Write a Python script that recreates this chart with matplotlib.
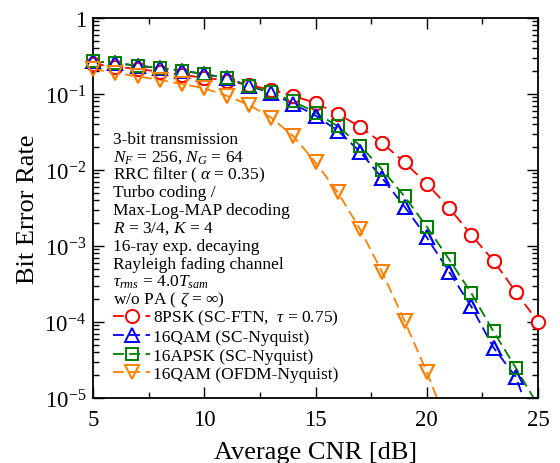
import math
import matplotlib
matplotlib.use("Agg")
import matplotlib.pyplot as plt
from matplotlib.ticker import FixedLocator, LogLocator, FuncFormatter, NullFormatter

plt.rcParams['font.family'] = ['Liberation Serif', 'DejaVu Serif']
plt.rcParams['mathtext.fontset'] = 'custom'
plt.rcParams['mathtext.rm'] = 'Liberation Serif'
plt.rcParams['mathtext.it'] = 'Liberation Serif:italic'
plt.rcParams['mathtext.bf'] = 'Liberation Serif:bold'

cnr_8psk = [5, 6, 7, 8, 9, 10, 11, 12, 13, 14, 15, 16, 17, 18, 19, 20, 21, 22, 23, 24, 25]
ber_8psk = [0.248, 0.229, 0.213, 0.197, 0.178, 0.164, 0.150, 0.131, 0.114, 0.095, 0.076,
            0.055, 0.037, 0.0226, 0.0126, 0.0066, 0.0032, 0.0014, 6.4e-4, 2.5e-4, 1.0e-4]

cnr_16qam = [5, 6, 7, 8, 9, 10, 11, 12, 13, 14, 15, 16, 17, 18, 19, 20, 21, 22, 23, 24, 25]
ber_16qam = [0.27, 0.255, 0.236, 0.22, 0.203, 0.183, 0.162, 0.128, 0.103, 0.074, 0.052,
             0.033, 0.0174, 0.0078, 0.0033, 0.0013, 4.6e-4, 1.6e-4, 4.6e-5, 1.9e-5, 3.0e-6]

cnr_16apsk = [5, 6, 7, 8, 9, 10, 11, 12, 13, 14, 15, 16, 17, 18, 19, 20, 21, 22, 23, 24, 25]
ber_16apsk = [0.27, 0.255, 0.236, 0.22, 0.203, 0.183, 0.162, 0.129, 0.105, 0.080, 0.057,
              0.0376, 0.021, 0.0101, 0.0045, 0.0018, 6.7e-4, 2.4e-4, 7.5e-5, 2.5e-5, 8.0e-6]

cnr_ofdm = [5, 6, 7, 8, 9, 10, 11, 12, 13, 14, 15, 16, 17, 18, 19, 20, 21]
ber_ofdm = [0.213, 0.19, 0.17, 0.154, 0.135, 0.119, 0.095, 0.072, 0.049, 0.028, 0.0126,
            0.0051, 0.00167, 4.5e-4, 1.04e-4, 2.2e-5, 4.0e-6]

labels = ['8PSK (SC-FTN,  $\\tau$ = 0.75)', '16QAM (SC-Nyquist)',
          '16APSK (SC-Nyquist)', '16QAM (OFDM-Nyquist)']

info_lines = ['3-bit transmission',
              '$N_F$ = 256, $N_G$ = 64',
              'RRC filter ( $\\alpha$ = 0.35)',
              'Turbo coding /',
              'Max-Log-MAP decoding',
              '$R$ = 3/4, $K$ = 4',
              '16-ray exp. decaying',
              'Rayleigh fading channel',
              '$\\tau_{rms}$ = 4.0$T_{sam}$',
              'w/o PA ( $\\zeta$ = $\\infty$)']

XMIN, XMAX, YMIN, YMAX = 5, 25, 1e-5, 1

fig = plt.figure(figsize=(5.6, 4.64), dpi=100)
ax = fig.add_axes([93/560, 1 - 399/464, 445/560, 380/464])

dash = (6, 3)
ms = 9.5
lw = 1.3
series = [
    (cnr_8psk, ber_8psk, '#ff0000', 'o', ms, 'white'),
    (cnr_16qam, ber_16qam, '#0000ff', '^', ms, 'none'),
    (cnr_16apsk, ber_16apsk, '#008000', 's', ms - 1, 'none'),
    (cnr_ofdm, ber_ofdm, '#ff8000', 'v', ms, 'none'),
]
for (x, y, c, m, s, fc), lab in zip(series, labels):
    ax.plot(x, y, color=c, ls=(0, dash), lw=lw, marker=m, ms=s,
            mfc=fc, mec=c, mew=1.4, label=lab)
    xin = [a for a, b in zip(x, y) if YMIN <= b <= YMAX and XMIN <= a <= XMAX]
    yin = [b for a, b in zip(x, y) if YMIN <= b <= YMAX and XMIN <= a <= XMAX]
    ax.plot(xin, yin, ls='none', marker=m, ms=s, mfc=fc, mec=c, mew=1.4,
            clip_on=False, zorder=3)

ax.set_yscale('log')
ax.set_xlim(XMIN, XMAX)
ax.set_ylim(YMIN, YMAX)

ax.xaxis.set_major_locator(FixedLocator([5, 10, 15, 20, 25]))
ax.xaxis.set_minor_locator(FixedLocator([7.5, 12.5, 17.5, 22.5]))
ax.yaxis.set_major_locator(LogLocator(base=10, numticks=10))
ax.yaxis.set_minor_locator(LogLocator(base=10, subs=range(2, 10), numticks=20))
ax.yaxis.set_minor_formatter(NullFormatter())

def yfmt(v, pos):
    e = int(round(math.log10(v)))
    if e == 0:
        return '1'
    return '$10^{%d}$' % e

ax.yaxis.set_major_formatter(FuncFormatter(yfmt))
ax.tick_params(which='both', direction='in', top=True, right=True, labelsize=16.5)
ax.tick_params(which='major', length=8, width=1.0)
ax.tick_params(which='minor', length=4, width=1.0)
ax.tick_params(axis='x', pad=8)
ax.tick_params(axis='y', pad=5)
for sp in ax.spines.values():
    sp.set_linewidth(1.3)

ax.set_xlabel('Average CNR [dB]', fontsize=19, labelpad=8)
ax.set_ylabel('Bit Error Rate', fontsize=19, labelpad=4)

y0 = 140
for i, t in enumerate(info_lines):
    fig.text(113/560, 1 - (y0 + i * 17.8) / 464, t, fontsize=12.5, ha='left', va='center')

leg = ax.legend(loc='upper left', bbox_to_anchor=(20/445, 1 - 290/380), frameon=False,
                fontsize=12.5, handlelength=2.15, handletextpad=0.15, labelspacing=0.12,
                borderpad=0, borderaxespad=0)

fig.savefig('out.png', dpi=100)
